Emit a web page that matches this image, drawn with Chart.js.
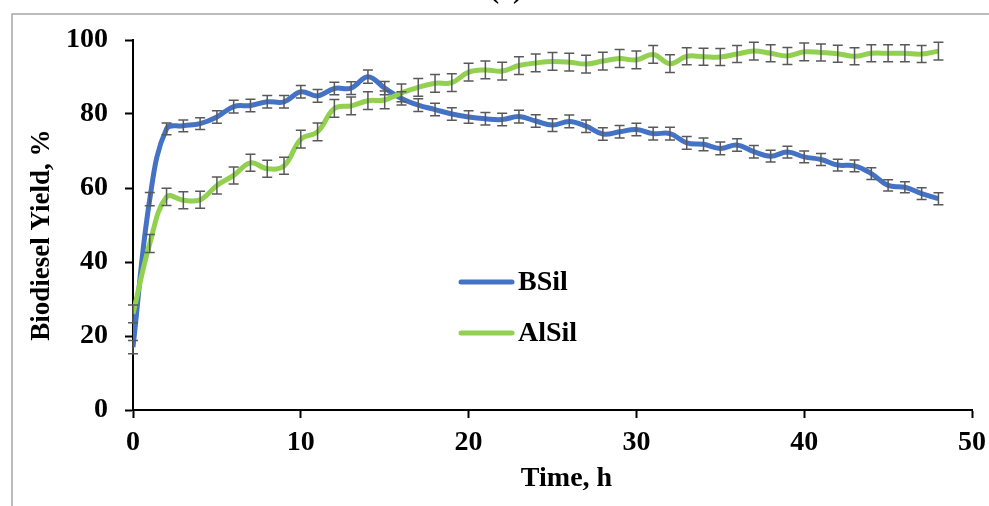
<!DOCTYPE html>
<html>
<head>
<meta charset="utf-8">
<script src="https://cdn.jsdelivr.net/npm/chart.js@4.4.0/dist/chart.umd.min.js"></script>
<style>
  body { margin: 0; background: #fff; }
  #wrap { width: 989px; height: 506px; position: relative; }
</style>
</head>
<body>
<div id="wrap"><canvas id="chart" width="989" height="506"></canvas></div>
<script>
// time points (h)
const hours = [0, 1, 2, 3, 4, 5, 6, 7, 8, 9, 10, 11, 12, 13, 14, 15, 16, 17, 18, 19, 20,
  21, 22, 23, 24, 25, 26, 27, 28, 29, 30, 31, 32, 33, 34, 35, 36, 37, 38, 39, 40,
  41, 42, 43, 44, 45, 46, 47, 48];

// biodiesel yield, %
const bsil = [17, 57, 76, 76.8, 77.4, 79.2, 82, 82.3, 83.3, 83.3, 86, 84.9, 86.9, 87, 90.1,
  87, 84.2, 82.4, 81.2, 80, 79.2, 78.7, 78.5, 79.3, 78.1, 77, 78, 76.7, 74.6, 75.2, 75.8,
  74.7, 74.7, 72.2, 71.8, 70.7, 71.6, 69.8, 68.6, 69.7, 68.4, 67.7, 66.2, 66, 63.9, 60.7,
  60.2, 58.5, 57.1];
const alsil = [26, 45, 57.6, 56.7, 56.8, 60.7, 63.4, 66.8, 65.2, 66, 73.2, 75.2, 81.5, 82.2,
  83.6, 83.8, 85.7, 87.2, 88.3, 88.5, 91.3, 91.9, 91.6, 93.1, 93.8, 94.2, 94, 93.5, 94.3,
  95, 94.6, 96.1, 93.6, 95.6, 95.5, 95.4, 96.2, 97, 96.4, 95.7, 96.8, 96.6, 96.3, 95.6,
  96.4, 96.4, 96.4, 96.2, 97];

// error bar half-lengths
const bsilErr = [1.8, 1.8, 1.6, 1.6, 1.6, 1.7, 1.7, 1.7, 1.7, 1.7, 1.7, 1.7, 1.7, 1.7, 1.8,
  1.8, 1.8, 1.7, 1.7, 1.7, 1.7, 1.7, 1.7, 1.7, 1.7, 1.7, 1.7, 1.7, 1.7, 1.7, 1.7, 1.7, 1.7,
  1.7, 1.7, 1.7, 1.7, 1.7, 1.6, 1.6, 1.6, 1.6, 1.6, 1.6, 1.6, 1.5, 1.5, 1.6, 1.6];
const alsilErr = [2.4, 2.4, 2.3, 2.3, 2.3, 2.3, 2.3, 2.3, 2.3, 2.3, 2.4, 2.4, 2.4, 2.4, 2.4,
  2.4, 2.4, 2.4, 2.4, 2.4, 2.4, 2.4, 2.4, 2.4, 2.4, 2.4, 2.4, 2.4, 2.4, 2.4, 2.4, 2.4, 2.4,
  2.3, 2.3, 2.3, 2.3, 2.4, 2.3, 2.3, 2.4, 2.3, 2.3, 2.3, 2.3, 2.3, 2.3, 2.3, 2.4];

const xTicks = [0, 10, 20, 30, 40, 50];
const yTicks = [0, 20, 40, 60, 80, 100];

const serif = "'Liberation Serif', 'Times New Roman', serif";
Chart.defaults.font.family = serif;
Chart.defaults.font.weight = 'bold';
Chart.defaults.color = '#000';

// gray frame + cut-off panel label
const framePlugin = {
  id: 'frame',
  beforeDraw(chart) {
    const ctx = chart.ctx;
    ctx.save();
    ctx.fillStyle = '#fff';
    ctx.fillRect(0, 0, chart.width, chart.height);
    ctx.strokeStyle = '#a6a6a6';
    ctx.lineWidth = 1.5;
    ctx.beginPath();
    ctx.moveTo(12, chart.height);
    ctx.lineTo(12, 14);
    ctx.lineTo(chart.width, 14);
    ctx.stroke();
    ctx.font = "bold 28px " + serif;
    ctx.fillStyle = '#000';
    ctx.textAlign = 'center';
    ctx.textBaseline = 'alphabetic';
    ctx.fillText('(a)', 506, -2);
    ctx.restore();
  }
};

const errorBarPlugin = {
  id: 'errorBars',
  afterDatasetsDraw(chart) {
    const ctx = chart.ctx;
    const y = chart.scales.y;
    ctx.save();
    ctx.strokeStyle = '#595959';
    ctx.lineWidth = 1.5;
    chart.data.datasets.forEach((ds, di) => {
      const meta = chart.getDatasetMeta(di);
      meta.data.forEach((pt, i) => {
        const v = ds.data[i].y;
        const e = ds.errors[i];
        const top = y.getPixelForValue(v + e);
        const bot = y.getPixelForValue(v - e);
        ctx.beginPath();
        ctx.moveTo(pt.x, top); ctx.lineTo(pt.x, bot);
        ctx.moveTo(pt.x - 5, top); ctx.lineTo(pt.x + 5, top);
        ctx.moveTo(pt.x - 5, bot); ctx.lineTo(pt.x + 5, bot);
        ctx.stroke();
      });
    });
    ctx.restore();
  }
};

// legend sitting inside the plot
const legendPlugin = {
  id: 'inLegend',
  afterDraw(chart) {
    const ctx = chart.ctx;
    ctx.save();
    ctx.font = "bold 28px " + serif;
    ctx.textBaseline = 'middle';
    ctx.textAlign = 'left';
    ctx.lineCap = 'round';
    const rows = [chart.data.datasets[0], chart.data.datasets[1]];
    rows.forEach((ds, i) => {
      const yy = 282 + i * 51;
      ctx.strokeStyle = ds.borderColor;
      ctx.lineWidth = 5;
      ctx.beginPath();
      ctx.moveTo(461, yy);
      ctx.lineTo(512, yy);
      ctx.stroke();
      ctx.fillStyle = '#000';
      ctx.fillText(ds.label, 518, yy + 1);
    });
    ctx.restore();
  }
};

new Chart(document.getElementById('chart'), {
  type: 'line',
  data: {
    datasets: [
      {
        label: 'BSil',
        data: hours.map((h, i) => ({ x: h, y: bsil[i] })),
        errors: bsilErr,
        borderColor: '#4472c4',
        borderWidth: 5,
        pointRadius: 0,
        tension: 0.4,
        order: 1
      },
      {
        label: 'AlSil',
        data: hours.map((h, i) => ({ x: h, y: alsil[i] })),
        errors: alsilErr,
        borderColor: '#92d050',
        borderWidth: 5,
        pointRadius: 0,
        tension: 0.4,
        order: 0
      }
    ]
  },
  options: {
    responsive: false,
    animation: false,
    layout: { padding: { left: 0, right: 17, top: 40, bottom: 0 } },
    plugins: { legend: { display: false }, tooltip: { enabled: false } },
    scales: {
      x: {
        type: 'linear',
        min: 0,
        max: 50,
        afterFit(s) { s.height = 96; s.paddingRight = 0; },
        afterBuildTicks(s) { s.ticks = xTicks.map(v => ({ value: v })); },
        border: { color: '#000', width: 2 },
        grid: { drawOnChartArea: false, tickLength: 8, tickWidth: 2, tickColor: '#000' },
        ticks: { padding: 8, font: { size: 28, weight: 'bold' }, maxRotation: 0 },
        title: { display: true, text: '    Time, h', font: { size: 28, weight: 'bold' }, padding: { top: 0, bottom: 10 } }
      },
      y: {
        min: 0,
        max: 100,
        afterFit(s) { s.width = 133; },
        afterBuildTicks(s) { s.ticks = yTicks.map(v => ({ value: v })); },
        border: { color: '#000', width: 2 },
        grid: { drawOnChartArea: false, tickLength: 8, tickWidth: 2, tickColor: '#000' },
        ticks: { padding: 17, font: { size: 28, weight: 'bold' } },
        title: { display: true, text: 'Biodiesel Yield, %   ', font: { size: 27, weight: 'bold' }, padding: { top: 26, bottom: 0 } }
      }
    }
  },
  plugins: [framePlugin, errorBarPlugin, legendPlugin]
});
</script>
</body>
</html>
